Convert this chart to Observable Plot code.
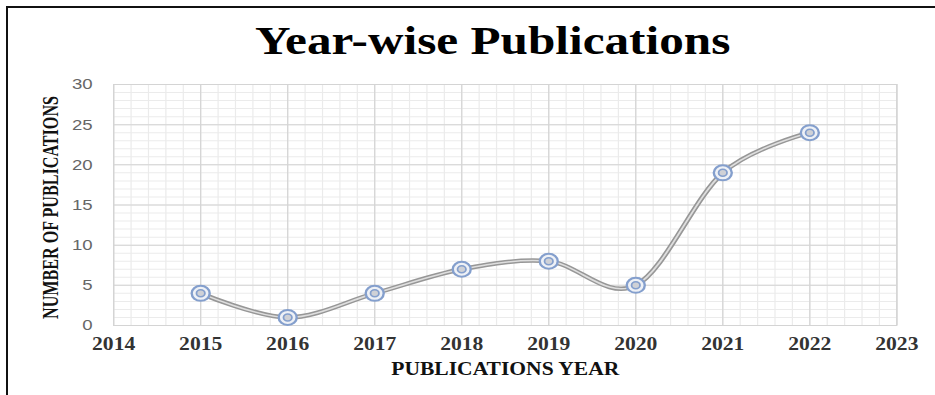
<!DOCTYPE html>
<html>
<head>
<meta charset="utf-8">
<script src="https://cdn.jsdelivr.net/npm/d3@7"></script>
<script src="https://cdn.jsdelivr.net/npm/@observablehq/plot@0.6"></script>
<style>
  html, body { margin: 0; padding: 0; background: #fff; }
  #wrap { position: relative; width: 935px; height: 395px; overflow: hidden; background: #fff; }
  #wrap svg { position: absolute; left: 0; top: 0; }
  #border { position: absolute; left: 6px; top: 6px; right: -10px; bottom: -10px;
            border-left: 2px solid #111; border-top: 2px solid #111; pointer-events: none; }
</style>
</head>
<body>
<div id="wrap"></div>
<script>
// ---- data ----
const years = [2015, 2016, 2017, 2018, 2019, 2020, 2021, 2022];
const publications = [4, 1, 4, 7, 8, 5, 19, 24];
const xTickLabels = [2014, 2015, 2016, 2017, 2018, 2019, 2020, 2021, 2022, 2023];
const yTickLabels = [0, 5, 10, 15, 20, 25, 30];
const titleText = "Year-wise Publications";
const xTitleText = "PUBLICATIONS YEAR";
const yTitleText = "NUMBER OF PUBLICATIONS";

// minor gridlines (5 per year, 1 per unit)
const minorX = d3.range(0, 46).map(i => 2014 + i / 5);
const minorY = d3.range(0, 31);

const data = years.map((year, i) => ({year, count: publications[i]}));

// the reference is horizontally stretched ~1.2x: draw in a narrower space and stretch
const W = 779, H = 395, OUTW = 935;

const serif = "'Liberation Serif', 'Times New Roman', serif";
const sans = "'Liberation Sans', Arial, sans-serif";

// target text lengths (in unstretched units)
const titleLen = 396, xTitleLen = 190, yTitleLen = 223;

const plot = Plot.plot({
  width: W,
  height: H,
  marginLeft: 94.2,
  marginRight: 32.3,
  marginTop: 84,
  marginBottom: 70,
  x: {domain: [2014, 2023], axis: null},
  y: {domain: [0, 30], axis: null},
  style: {background: "transparent", overflow: "visible"},
  marks: [
    Plot.ruleX(minorX, {stroke: "#ebebeb", strokeWidth: 1}),
    Plot.ruleY(minorY, {stroke: "#ebebeb", strokeWidth: 1}),
    Plot.ruleX(xTickLabels, {stroke: "#d4d4d4", strokeWidth: 1}),
    Plot.ruleY(yTickLabels, {stroke: "#d4d4d4", strokeWidth: 1}),
    Plot.frame({stroke: "#d4d4d4"}),
    Plot.line(data, {x: "year", y: "count", curve: "cardinal", stroke: "#979797", strokeWidth: 4.5}),
    Plot.line(data, {x: "year", y: "count", curve: "cardinal", stroke: "#dedede", strokeWidth: 1.6}),
    Plot.dot(data, {x: "year", y: "count", r: 7.5, stroke: "#849fcd", strokeWidth: 2, fill: "#eef1f6"}),
    Plot.dot(data, {x: "year", y: "count", r: 3.5, stroke: "#849fcd", strokeWidth: 1.5, fill: "#cfd1d6"}),
    // y tick labels
    Plot.text(yTickLabels, {y: d => d, text: d => String(d), frameAnchor: "left", textAnchor: "end",
      lineAnchor: "middle", dx: -17.5, fontFamily: sans, fontSize: 15.5, fill: "#666"}),
    // x tick labels
    Plot.text(xTickLabels, {x: d => d, text: d => String(d), frameAnchor: "bottom", lineAnchor: "middle", dy: 19,
      fontFamily: serif, fontWeight: "bold", fontSize: 18, fill: "#333"}),
    // x axis title
    Plot.text([xTitleText], {frameAnchor: "bottom", lineAnchor: "middle", textAnchor: "start",
      dx: -xTitleLen / 2, dy: 43.5,
      fontFamily: serif, fontWeight: "bold", fontSize: 19, fill: "#111"}),
    // y axis title (rotated: start is at the bottom)
    Plot.text([yTitleText], {frameAnchor: "left", lineAnchor: "middle", textAnchor: "start",
      dx: -52.5, dy: 2.5 + yTitleLen / 2, rotate: -90,
      fontFamily: serif, fontWeight: "bold", fontSize: 20, fill: "#111"}),
    // chart title
    Plot.text([titleText], {frameAnchor: "top", lineAnchor: "middle", textAnchor: "start",
      dx: -10.5 - titleLen / 2, dy: -43,
      fontFamily: serif, fontWeight: "bold", fontSize: 40, fill: "#000"})
  ]
});

// condense titles to match reference lengths
const groups = plot.querySelectorAll('g[aria-label="text"]');
const lengths = {2: xTitleLen, 3: yTitleLen, 4: titleLen};
groups.forEach((g, i) => {
  if (lengths[i]) {
    g.querySelectorAll("text").forEach(t => {
      t.setAttribute("textLength", lengths[i]);
      t.setAttribute("lengthAdjust", "spacingAndGlyphs");
    });
  }
});

// horizontal stretch
plot.setAttribute("viewBox", `0 0 ${W} ${H}`);
plot.setAttribute("width", OUTW);
plot.setAttribute("height", H);
plot.setAttribute("preserveAspectRatio", "none");
plot.style.width = OUTW + "px";
plot.style.height = H + "px";
plot.style.maxWidth = "none";

const wrap = document.getElementById("wrap");
wrap.appendChild(plot);
const border = document.createElement("div");
border.id = "border";
wrap.appendChild(border);
</script>
</body>
</html>
